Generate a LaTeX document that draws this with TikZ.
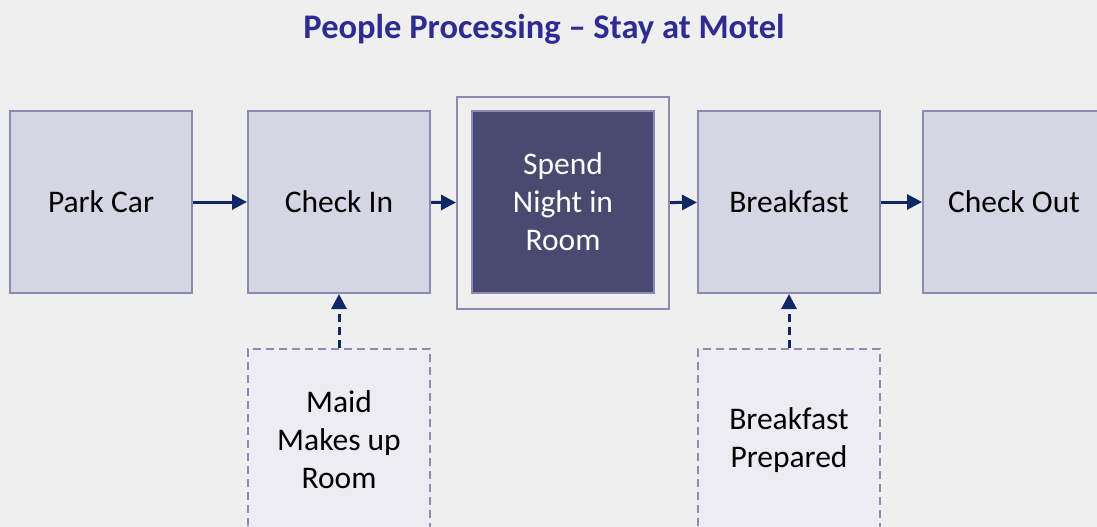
\documentclass[tikz,border=0pt]{standalone}
\usepackage{fontspec}
\setmainfont{Carlito}
\usetikzlibrary{arrows.meta}
\definecolor{bgcol}{HTML}{EFEFEF}
\definecolor{boxfill}{HTML}{D6D5E3}
\definecolor{boxline}{HTML}{8D8BB5}
\definecolor{darkfill}{HTML}{4A4A70}
\definecolor{lightfill}{HTML}{EDECF3}
\definecolor{arrowcol}{HTML}{0F2863}
\definecolor{titlecol}{HTML}{2E2B93}
\tikzset{
    stepbox/.style={draw=boxline, line width=2pt, fill=boxfill, minimum size=182pt,
        inner sep=0pt, align=center, font=\fontsize{31.5}{38}\selectfont},
    darkbox/.style={stepbox, fill=darkfill, text=white},
    framebox/.style={draw=boxline, line width=2pt, minimum size=212pt, inner sep=0pt},
    supportbox/.style={stepbox, fill=lightfill, dash pattern=on 8pt off 5pt},
    flow/.style={draw=arrowcol, line width=3pt, -{Triangle[length=15pt,width=15pt]}},
}
\begin{document}
\begin{tikzpicture}[x=1pt, y=-1pt]
    \useasboundingbox (0,0) rectangle (1097,527);
    \fill[bgcol] (0,0) rectangle (1097,527);
    \clip (0,0) rectangle (1097,527);
    % title
    \node[font=\fontsize{34.5}{40}\selectfont\bfseries, text=titlecol] (title) at (544,29)
        {People Processing – Stay at Motel};
    % main line of steps
    \node[stepbox] (park) at (101,202) {Park Car};
    \node[stepbox] (checkin) at (339,202) {Check In};
    \node[framebox] (nightframe) at (563,203) {};
    \node[darkbox] (night) at (563,202) {Spend\\Night in\\Room};
    \node[stepbox] (breakfast) at (789,202) {Breakfast};
    \node[stepbox] (checkout) at (1014,202) {Check Out};
    % support steps
    \node[supportbox] (maid) at (339,440) {Maid\\Makes up\\Room};
    \node[supportbox] (prepared) at (789,440) {Breakfast\\Prepared};
    % connectors
    \draw[flow] (park) -- (checkin);
    \draw[flow] (checkin) -- (nightframe);
    \draw[flow] (nightframe) -- (breakfast);
    \draw[flow] (breakfast) -- (checkout);
    \draw[flow, dash pattern=on 8pt off 5pt] (maid) -- (checkin);
    \draw[flow, dash pattern=on 8pt off 5pt] (prepared) -- (breakfast);
\end{tikzpicture}
\end{document}
